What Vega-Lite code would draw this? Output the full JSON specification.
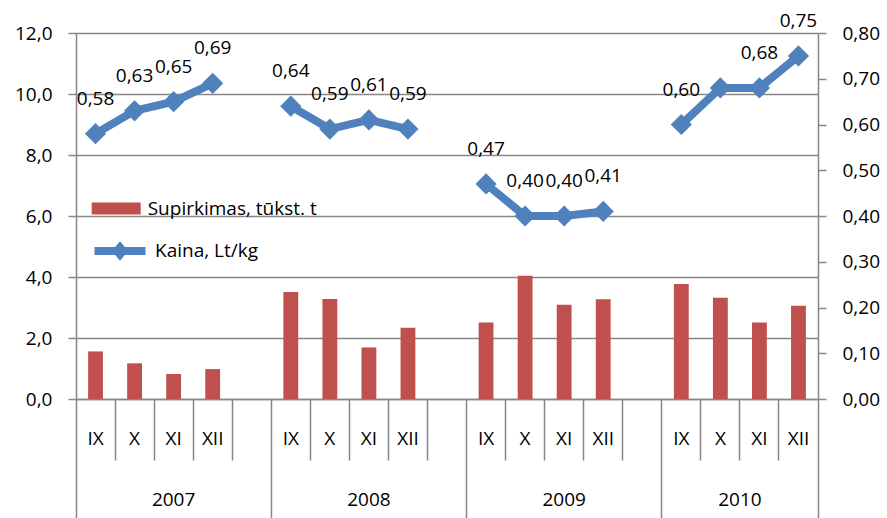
{
  "$schema": "https://vega.github.io/schema/vega-lite/v6.json",
  "width": 742,
  "height": 366,
  "autosize": {"type": "none"},
  "padding": {"left": 76, "top": 33, "right": 69, "bottom": 119},
  "background": "white",
  "config": {
    "view": {"stroke": null},
    "font": "Open Sans",
    "locale": {"number": {"decimal": ",", "thousands": " ", "grouping": [3], "currency": ["", " €"]}},
    "axis": {"labelFont": "Open Sans", "labelFontSize": 19, "labelColor": "#000000", "domainColor": "#878787", "tickColor": "#878787", "gridColor": "#878787", "domainWidth": 1.5, "tickWidth": 1.5, "gridWidth": 1.5, "title": null},
    "legend": {"labelFont": "Open Sans", "labelFontSize": 19, "labelColor": "#000000", "title": null, "padding": 0, "orient": "none", "labelLimit": 400}
  },
  "data": {
    "values": [
      {"key": "2007-IX", "year": "2007", "bought": 1.56, "price": 0.58},
      {"key": "2007-X", "year": "2007", "bought": 1.17, "price": 0.63},
      {"key": "2007-XI", "year": "2007", "bought": 0.82, "price": 0.65},
      {"key": "2007-XII", "year": "2007", "bought": 0.98, "price": 0.69},
      {"key": "2008-IX", "year": "2008", "bought": 3.51, "price": 0.64},
      {"key": "2008-X", "year": "2008", "bought": 3.28, "price": 0.59},
      {"key": "2008-XI", "year": "2008", "bought": 1.69, "price": 0.61},
      {"key": "2008-XII", "year": "2008", "bought": 2.34, "price": 0.59},
      {"key": "2009-IX", "year": "2009", "bought": 2.51, "price": 0.47},
      {"key": "2009-X", "year": "2009", "bought": 4.04, "price": 0.40},
      {"key": "2009-XI", "year": "2009", "bought": 3.09, "price": 0.40},
      {"key": "2009-XII", "year": "2009", "bought": 3.27, "price": 0.41},
      {"key": "2010-IX", "year": "2010", "bought": 3.77, "price": 0.60},
      {"key": "2010-X", "year": "2010", "bought": 3.32, "price": 0.68},
      {"key": "2010-XI", "year": "2010", "bought": 2.51, "price": 0.68},
      {"key": "2010-XII", "year": "2010", "bought": 3.06, "price": 0.75}
    ]
  },
  "resolve": {"scale": {"y": "independent", "color": "independent"}, "axis": {"x": "independent", "y": "independent"}},
  "layer": [
    {
      "mark": {"type": "bar", "width": {"band": 0.38}},
      "encoding": {
        "x": {
          "field": "key", "type": "nominal",
          "scale": {"type": "band", "paddingInner": 0, "paddingOuter": 0,
            "domain": ["2007-IX","2007-X","2007-XI","2007-XII","2007-","2008-IX","2008-X","2008-XI","2008-XII","2008-","2009-IX","2009-X","2009-XI","2009-XII","2009-","2010-IX","2010-X","2010-XI","2010-XII"]},
          "axis": {
            "orient": "bottom", "bandPosition": 0, "labelAngle": 0,
            "tickSize": {"condition": {"test": "indexof(datum.value, '-IX') >= 0", "value": 119}, "value": 61},
            "labelPadding": {"condition": {"test": "indexof(datum.value, '-IX') >= 0", "value": -89}, "value": -31},
            "labelExpr": "split(datum.value, '-')[1]",
            "labelOffset": 0, "labelOverlap": false, "grid": false
          }
        },
        "y": {
          "field": "bought", "type": "quantitative",
          "scale": {"domain": [0, 12], "nice": false},
          "axis": {"orient": "left", "values": [0, 2, 4, 6, 8, 10, 12], "format": ".1f", "grid": true, "tickSize": 8, "labelPadding": 16}
        },
        "color": {
          "datum": "Supirkimas, tūkst. t",
          "scale": {"range": ["#C0504D"]},
          "legend": {"legendX": 15.7, "legendY": 151, "symbolType": "M-1,-0.245L1,-0.245L1,0.245L-1,0.245Z", "symbolSize": 2401, "symbolStrokeWidth": 0, "labelOffset": 7}
        }
      }
    },
    {
      "mark": {"type": "line", "strokeWidth": 8, "point": {"shape": "diamond", "size": 450, "filled": true}},
      "encoding": {
        "x": {
          "field": "key", "type": "nominal",
          "axis": {
            "orient": "bottom", "bandPosition": 1, "labelAngle": 0,
            "values": ["2007-XI", "2008-XI", "2009-XI", "2010-XI", "2010-XII"],
            "domain": false, "grid": false, "tickSize": 119,
            "tickOpacity": {"condition": {"test": "datum.value == '2010-XII'", "value": 1}, "value": 0},
            "labelExpr": "datum.value == '2010-XII' ? '' : split(datum.value, '-')[0]",
            "labelOffset": {"condition": {"test": "datum.value == '2010-XI'", "value": -19.5}, "value": 0},
            "labelPadding": -28, "labelOverlap": false
          }
        },
        "y": {
          "field": "price", "type": "quantitative",
          "scale": {"domain": [0, 0.8], "nice": false},
          "axis": {"orient": "right", "values": [0, 0.1, 0.2, 0.3, 0.4, 0.5, 0.6, 0.7, 0.8], "format": ".2f", "grid": false, "tickSize": 8, "labelPadding": 16}
        },
        "detail": {"field": "year"},
        "color": {
          "datum": "Kaina, Lt/kg",
          "scale": {"range": ["#4F81BD"]},
          "legend": {"legendX": 10, "legendY": 184, "symbolType": "M-0.85,0L0.85,0M-0.1,0L0,-0.12L0.1,0L0,0.12Z", "symbolSize": 3600, "symbolStrokeWidth": 8, "labelOffset": 1}
        }
      }
    },
    {
      "transform": [{"filter": "datum.key != '2010-X'"}],
      "mark": {"type": "text", "dy": -35, "fontSize": 19, "font": "Open Sans", "color": "#000000"},
      "encoding": {
        "x": {"field": "key", "type": "nominal", "axis": null},
        "y": {"field": "price", "type": "quantitative", "scale": {"domain": [0, 0.8], "nice": false}, "axis": null},
        "text": {"field": "price", "type": "quantitative", "format": ".2f"}
      }
    }
  ]
}
